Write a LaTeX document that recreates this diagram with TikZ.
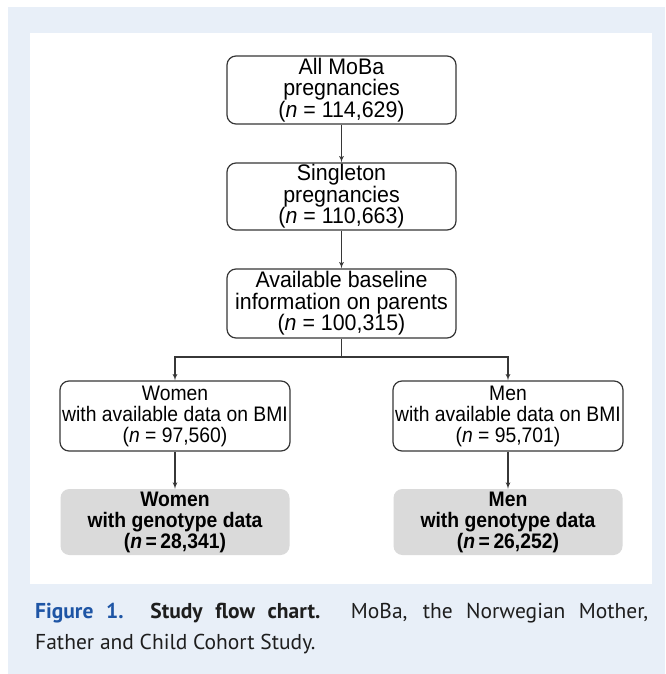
\documentclass[tikz,border=0pt]{standalone}
\usepackage{fontspec}
\setmainfont{Liberation Sans}[FakeStretch=0.92]
\newfontfamily\topfont{Liberation Sans}[FakeStretch=0.95]
\newfontfamily\capfont{PT Sans}
\usetikzlibrary{arrows}
\definecolor{bgblue}{RGB}{232,239,248}
\definecolor{figblue}{RGB}{30,85,165}
\definecolor{boxgray}{RGB}{218,218,218}
\definecolor{linegray}{RGB}{55,55,55}
\definecolor{captext}{RGB}{30,30,30}
\tikzset{
  plainbox/.style={draw=linegray,line width=1.2pt,rounded corners=9pt,fill=white,align=center,inner sep=0pt,font=\fontsize{21}{21}\selectfont},
  topbox/.style={plainbox,minimum width=229pt,font=\topfont\fontsize{22.5}{21.5}\selectfont},
  genobox/.style={fill=boxgray,rounded corners=9pt,align=center,inner sep=0pt,minimum width=229pt,minimum height=66pt,font=\fontsize{21}{21}\selectfont\bfseries},
  conn/.style={draw=linegray,line width=1.2pt}
}
\begin{document}
\begin{tikzpicture}[x=1pt,y=-1pt,>=latex']
            \useasboundingbox (0,0) rectangle (665,674);
            \fill[bgblue] (8,7) rectangle (665,674);
            \fill[white] (30,33) rectangle (652,584);
            \node[topbox,minimum height=68pt] (all) at (341.5,90) {All MoBa\\pregnancies\\(\textit{n} = 114,629)};
            \node[topbox,minimum height=67pt] (single) at (341.5,196.5) {Singleton\\pregnancies\\(\textit{n} = 110,663)};
            \node[topbox,minimum height=69pt] (baseline) at (341.5,303.5) {Available baseline\\information on parents\\(\textit{n} = 100,315)};
            \node[plainbox,minimum width=230pt,minimum height=70pt] (women) at (175,416) {Women\\with available data on BMI\\(\textit{n} = 97,560)};
            \node[plainbox,minimum width=230pt,minimum height=70pt] (men) at (508,416) {Men\\with available data on BMI\\(\textit{n} = 95,701)};
            \node[genobox] (womengeno) at (175,522) {Women\\with genotype data\\(\textit{n}\,=\,28,341)};
            \node[genobox] (mengeno) at (508,522) {Men\\with genotype data\\(\textit{n}\,=\,26,252)};
            \coordinate (split) at (341.5,357);
            \draw[conn,->] (all) -- (single);
            \draw[conn,->] (single) -- (baseline);
            \draw[conn] (baseline) -- (split);
            \draw[conn,->] (split) -| (women);
            \draw[conn,->] (split) -| (men);
            \draw[conn,->] (women) -- (womengeno);
            \draw[conn,->] (men) -- (mengeno);
            \node[anchor=north west,text width=613pt,align=justify,inner sep=0pt,text=captext,font=\capfont\fontsize{21.5}{31}\selectfont] (caption) at (35,603) {{\bfseries\color{figblue}Figure 1.}\ \ {\bfseries Study flow chart.} MoBa, the Norwegian Mother,\linebreak Father and Child Cohort Study.};
        \end{tikzpicture}
\end{document}
